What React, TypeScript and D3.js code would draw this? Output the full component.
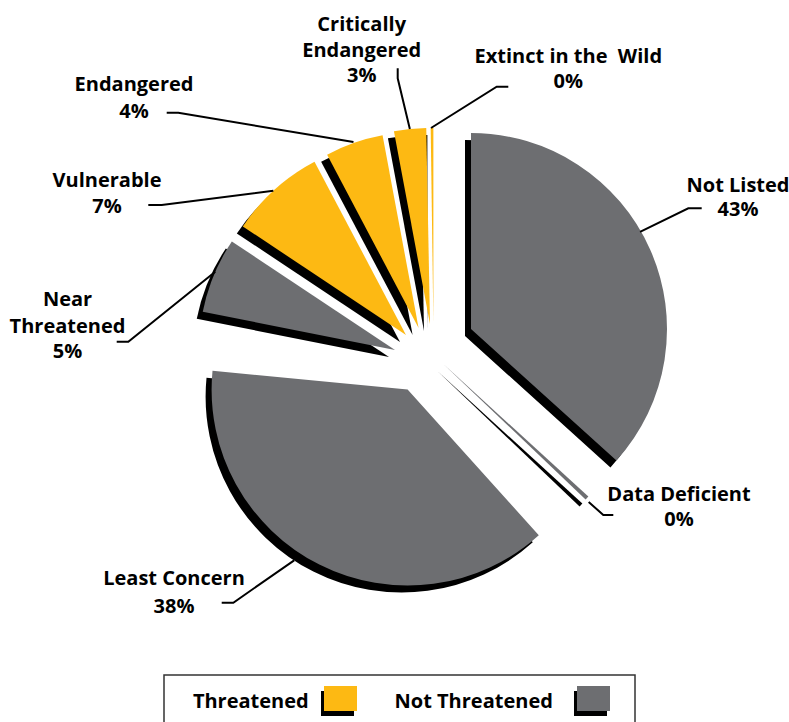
import React from "react";
import * as d3 from "d3";

// ---- data ----
const categories = [
  "Not Listed",
  "Data Deficient",
  "Least Concern",
  "Near Threatened",
  "Vulnerable",
  "Endangered",
  "Critically Endangered",
  "Extinct in the Wild",
];
// angular share of each wedge as drawn (percent of the full circle)
const shares = [36.67, 0.33, 38.19, 6.22, 7.92, 4.78, 2.64, 0.22];
// printed percentage labels
const pctLabels = ["43%", "0%", "38%", "5%", "7%", "4%", "3%", "0%"];
const labelLines = [
  ["Not Listed"],
  ["Data Deficient"],
  ["Least Concern"],
  ["Near", "Threatened"],
  ["Vulnerable"],
  ["Endangered"],
  ["Critically", "Endangered"],
  ["Extinct in the\u00a0 Wild"],
];
const groups = ["not", "not", "not", "not", "thr", "thr", "thr", "thr"];
const legendItems = ["Threatened", "Not Threatened"];
const legendGroups = ["thr", "not"];

// ---- layout / style ----
const W = 789;
const H = 722;
const CX = 430;
const CY = 349;
const R = 196;
const SHADOW = [-6, 7];
const COLORS: Record<string, string> = { thr: "#FDB913", not: "#6D6E71" };
// empty angle (degrees) left before each wedge
const gapBefore = [0, 0.3, 4.4, 5.7, 0, 0, 0, 0.3];
// explode offset of each wedge from the pie centre
const explode = [
  [41, -20],
  [13.6, 15.3],
  [-22.4, 40.6],
  [-35, 1],
  [-24, -14],
  [-11.4, -21],
  [0, -25],
  [3.4, -25],
];
// label anchor: x centre, baselines
const labelPos = [
  [738, 191.7, 216],
  [679, 501, 526],
  [174, 585, 613],
  [67.5, 306.2, 332.5, 357.8],
  [107, 187, 213],
  [134, 90.7, 118],
  [361.7, 30.7, 56.7, 81.7],
  [568.3, 63.3, 88.3],
];
// leader: bearing (deg) and radius where it meets the wedge, then elbow, then end
const leaderAt = [
  [60.1, 195],
  [133.5, 200],
  [213.6, 205],
  [293.5, 196],
  [317.4, 196],
  [340.7, 197],
  [354.1, 196],
  [359.3, 196],
];
const leaderElbow = [
  [[688.3, 208.3], [701.7, 208.3]],
  [[603.3, 515], [613.3, 515]],
  [[233.3, 602.7], [221.7, 602.7]],
  [[128.3, 341.7], [116.7, 341.7]],
  [[161.7, 205], [148.3, 205]],
  [[178.3, 112.7], [166.7, 112.7]],
  [[397.7, 78.3], [397.7, 68.3]],
  [[496.7, 86.7], [508.3, 86.7]],
];

const FONT = "'Open Sans', 'DejaVu Sans', sans-serif";

export default function App() {
  const rad = (deg: number) => (deg * Math.PI) / 180;
  const totalGap = d3.sum(gapBefore);
  const angle = d3
    .scaleLinear()
    .domain([0, d3.sum(shares)])
    .range([0, 360 - totalGap]);

  const pie = d3.pie<number>().sort(null).value((d) => d)(shares);
  let cumGap = 0;
  const wedges = pie.map((p, i) => {
    cumGap += gapBefore[i];
    const s = angle(d3.sum(shares.slice(0, i))) + cumGap;
    const e = s + angle(shares[i]);
    return { i, start: rad(s), end: rad(e), value: p.value };
  });

  const arc = d3
    .arc<any>()
    .innerRadius(0)
    .outerRadius(R)
    .startAngle((d) => d.start)
    .endAngle((d) => d.end);

  const line = d3.line();

  return (
    <svg
      width={W}
      height={H}
      style={{ position: "absolute", left: 0, top: 0, background: "#fff" }}
      fontFamily={FONT}
    >
      <rect width={W} height={H} fill="#fff" />
      {/* shadows */}
      <g>
        {wedges.map((w) => (
          <path
            key={"s" + w.i}
            d={arc(w) as string}
            transform={`translate(${CX + explode[w.i][0] + SHADOW[0]},${CY + explode[w.i][1] + SHADOW[1]})`}
            fill="#000"
          />
        ))}
      </g>
      {/* wedges */}
      <g>
        {wedges.map((w) => (
          <path
            key={"w" + w.i}
            d={arc(w) as string}
            transform={`translate(${CX + explode[w.i][0]},${CY + explode[w.i][1]})`}
            fill={COLORS[groups[w.i]]}
          />
        ))}
      </g>
      {/* leaders */}
      <g fill="none" stroke="#000" strokeWidth={2}>
        {wedges.map((w) => {
          const [b, r] = leaderAt[w.i];
          const ax = CX + explode[w.i][0] + r * Math.sin(rad(b));
          const ay = CY + explode[w.i][1] - r * Math.cos(rad(b));
          const pts: [number, number][] = [
            [ax, ay],
            leaderElbow[w.i][0] as [number, number],
            leaderElbow[w.i][1] as [number, number],
          ];
          return <path key={"l" + w.i} d={line(pts) as string} />;
        })}
      </g>
      {/* labels */}
      <g fontWeight={700} fontSize={20} textAnchor="middle" fill="#000">
        {categories.map((c, i) => {
          const lines = [...labelLines[i], pctLabels[i]];
          const pos = labelPos[i];
          return (
            <text key={c} x={pos[0]} y={pos[1]}>
              {lines.map((t, k) => (
                <tspan key={k} x={pos[0]} dy={k === 0 ? 0 : pos[k + 1] - pos[k]}>
                  {t}
                </tspan>
              ))}
            </text>
          );
        })}
      </g>
      {/* legend */}
      <g>
        <rect x={164} y={675} width={471} height={60} fill="#fff" stroke="#333" strokeWidth={1.5} />
        {legendItems.map((t, i) => {
          const tx = [250.8, 473.7][i];
          const sx = [324, 577][i];
          return (
            <g key={t}>
              <text x={tx} y={708} textAnchor="middle" fontWeight={700} fontSize={20}>
                {t}
              </text>
              <rect x={sx - 3} y={691} width={33} height={25} fill="#000" />
              <rect x={sx} y={686} width={33} height={25} fill={COLORS[legendGroups[i]]} />
            </g>
          );
        })}
      </g>
    </svg>
  );
}
